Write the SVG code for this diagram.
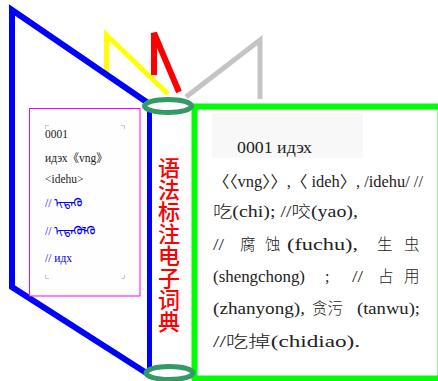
<svg xmlns="http://www.w3.org/2000/svg" width="438" height="381" viewBox="0 0 438 381">
<style>
.ln{fill:none;stroke-linejoin:miter;stroke-linecap:butt}
.lt{font-family:"Liberation Serif","Noto Sans CJK SC",serif;font-size:11.5px;fill:#222}
.lb{font-family:"Liberation Serif","Noto Sans CJK SC",serif;font-size:11.5px;fill:#0000ee}
.rt{font-family:"Liberation Serif","Noto Sans CJK SC",serif;font-size:16px;fill:#222}
.cj{font-family:"Noto Sans CJK SC",sans-serif;font-size:15.5px;font-weight:300;fill:#222}
.ttl{font-family:"Noto Sans CJK SC",sans-serif;font-size:22px;font-weight:500;fill:#ff0000;writing-mode:vertical-rl}
.mk{fill:none;stroke:#c8c8c8;stroke-width:1}
.ring{fill:none;stroke:#339966;stroke-width:5}
</style>
<rect width="438" height="381" fill="#ffffff"/>
<g id="connectors">
<path class="ln" d="M106.5,72 L106.5,35 L168,94" stroke="#ffff00" stroke-width="5"/>
<path class="ln" d="M154,75 L154,33 L179,92" stroke="#ff0000" stroke-width="6"/>
<path class="ln" d="M186,97 L260,40 L260,99" stroke="#c4c4c4" stroke-width="5"/>
<path class="ln" d="M148,103 L12,10 L12,287 L148,374" stroke="#0000ff" stroke-width="6"/>
<line x1="149.5" y1="108" x2="149.5" y2="370" stroke="#0000ff" stroke-width="5"/>
</g>
<g id="left-page">
<rect x="29.5" y="108.5" width="110.5" height="187.5" fill="#fefefe" stroke="#ff00ff" stroke-width="1"/>
<path class="mk" d="M45.5,129 V125.5 H49 M121,125.5 H124.5 V129 M45.5,275 V278.5 H49 M121,278.5 H124.5 V275"/>
<text class="lt" x="45" y="138">0001</text>
<text class="lt" x="45" y="162">идэх《vng》</text>
<text class="lt" x="45" y="183">&lt;idehu&gt;</text>
<text class="lb" x="45" y="207">// ᠢᠳᠡᠬᠦ</text>
<text class="lb" x="45" y="235">//  ᠢᠳᠡᠭᠦᠯᠬᠦ</text>
<text class="lb" x="45" y="262">// идх</text>
</g>
<g id="spine">
<text class="ttl" x="169" y="157">语法标注电子词典</text>
</g>
<g id="right-page">
<rect x="194.5" y="106.5" width="246" height="272" fill="#ffffff" stroke="#00ff00" stroke-width="6"/>
<rect x="212" y="113" width="151" height="45" fill="#f8f8f8"/>
<text class="rt" x="237" y="153" font-size="15" textLength="75" lengthAdjust="spacingAndGlyphs">0001 идэх</text>
<text class="rt" x="213" y="187" textLength="210" lengthAdjust="spacingAndGlyphs">〈〈vng〉〉,〈 ideh〉, /idehu/ //</text>
<text class="rt" x="213" y="217" textLength="145" lengthAdjust="spacingAndGlyphs"><tspan class="cj">吃</tspan>(chi); //<tspan class="cj">咬</tspan>(yao),</text>
<text class="rt" x="213" y="250" textLength="11" lengthAdjust="spacingAndGlyphs">//</text>
<text class="cj" x="240" y="250">腐</text>
<text class="cj" x="265" y="250">蚀</text>
<text class="rt" x="287" y="250" textLength="71" lengthAdjust="spacingAndGlyphs">(fuchu),</text>
<text class="cj" x="377" y="250">生</text>
<text class="cj" x="404" y="250">虫</text>
<text class="rt" x="213" y="282" textLength="92" lengthAdjust="spacingAndGlyphs">(shengchong)</text>
<text class="rt" x="325" y="282">;</text>
<text class="rt" x="352" y="282" textLength="11" lengthAdjust="spacingAndGlyphs">//</text>
<text class="cj" x="378" y="282">占</text>
<text class="cj" x="404" y="282">用</text>
<text class="rt" x="213" y="314" textLength="92" lengthAdjust="spacingAndGlyphs">(zhanyong),</text>
<text class="cj" x="312" y="314">贪污</text>
<text class="rt" x="357" y="314" textLength="63" lengthAdjust="spacingAndGlyphs">(tanwu);</text>
<text class="rt" x="213" y="347" font-size="20" textLength="147" lengthAdjust="spacingAndGlyphs">//<tspan class="cj" font-size="19">吃掉</tspan>(chidiao).</text>
</g>
<g id="rings">
<ellipse class="ring" cx="168" cy="106" rx="23.5" ry="6.5"/>
<ellipse class="ring" cx="169.5" cy="373" rx="23.5" ry="6.5"/>
</g>
</svg>
